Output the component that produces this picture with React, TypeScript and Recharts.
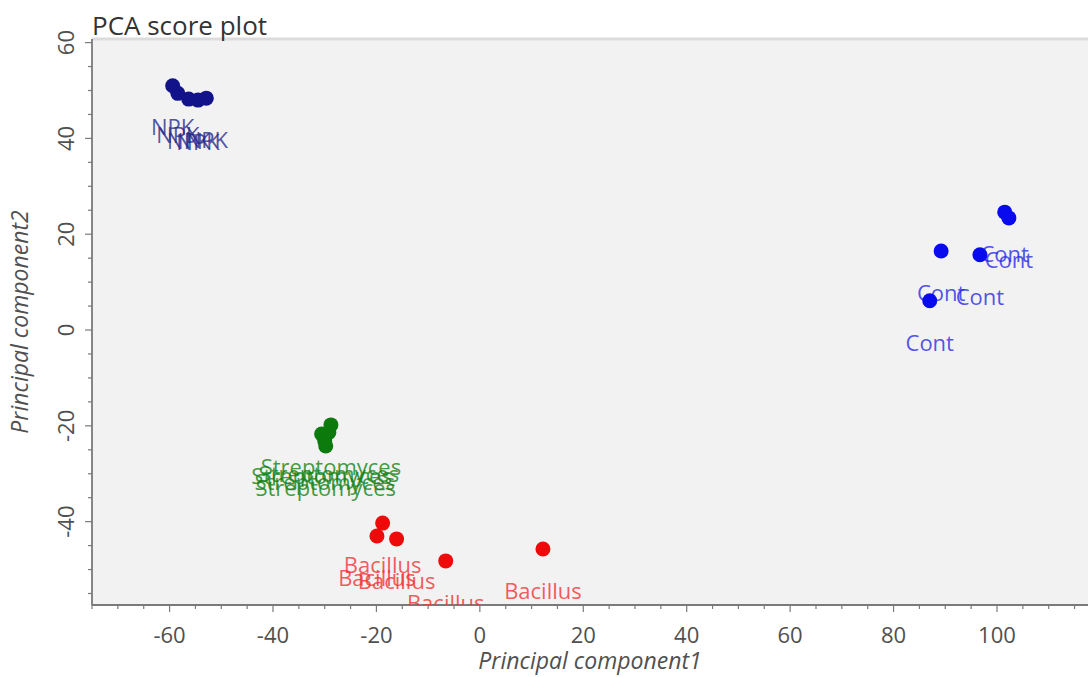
import React from 'react';
import { ScatterChart, Scatter, XAxis, YAxis, CartesianGrid, ReferenceLine } from 'recharts';

const npkPoints = [
  { x: -59.4, y: 51.0 },
  { x: -58.4, y: 49.4 },
  { x: -56.3, y: 48.2 },
  { x: -54.5, y: 48.0 },
  { x: -52.9, y: 48.4 },
];
const contPoints = [
  { x: 101.5, y: 24.6 },
  { x: 102.3, y: 23.4 },
  { x: 89.2, y: 16.5 },
  { x: 96.7, y: 15.7 },
  { x: 87.0, y: 6.1 },
];
const streptoPoints = [
  { x: -28.8, y: -19.8 },
  { x: -30.6, y: -21.7 },
  { x: -29.2, y: -21.4 },
  { x: -30.0, y: -23.1 },
  { x: -29.8, y: -24.2 },
];
const bacillusPoints = [
  { x: -18.8, y: -40.3 },
  { x: -19.9, y: -43.0 },
  { x: -16.1, y: -43.6 },
  { x: -6.6, y: -48.2 },
  { x: 12.2, y: -45.7 },
];

const xTicks = [-75, -70, -65, -60, -55, -50, -45, -40, -35, -30, -25, -20, -15, -10, -5, 0, 5, 10, 15, 20, 25, 30, 35, 40, 45, 50, 55, 60, 65, 70, 75, 80, 85, 90, 95, 100, 105, 110, 115];
const yTicks = [-55, -50, -45, -40, -35, -30, -25, -20, -15, -10, -5, 0, 5, 10, 15, 20, 25, 30, 35, 40, 45, 50, 55, 60];
const xDomain = [-75, 117.6];
const yDomain = [-57.4, 60.75];

const FONT = '"Open Sans", "DejaVu Sans", sans-serif';

const XTick = (props: any) => {
  const { x, y, payload } = props;
  const v = payload.value;
  const major = v % 20 === 0;
  return (
    <g>
      <line x1={x} x2={x} y1={y} y2={y + (major ? 7 : 4)} stroke="#7a7a7a" strokeWidth={1.2} />
      {major && (
        <text x={x} y={y + 30} dy="0.35em" textAnchor="middle" fontSize={22} fill="#505050" fontFamily={FONT}>
          {v}
        </text>
      )}
    </g>
  );
};

const YTick = (props: any) => {
  const { x, y, payload } = props;
  const v = payload.value;
  const major = v % 20 === 0;
  const tx = x - 26;
  return (
    <g>
      <line x1={x} x2={x - (major ? 7 : 4)} y1={y} y2={y} stroke="#7a7a7a" strokeWidth={1.2} />
      {major && (
        <text
          x={tx}
          y={y}
          dy="0.35em"
          textAnchor="middle"
          fontSize={22}
          fill="#505050"
          fontFamily={FONT}
          transform={`rotate(-90, ${tx}, ${y})`}
        >
          {v}
        </text>
      )}
    </g>
  );
};

const makeShape = (color: string, labelColor: string, label: string) => (props: any) => {
  const { cx, cy } = props;
  return (
    <g>
      <circle cx={cx} cy={cy} r={7.5} fill={color} />
      <text
        x={cx}
        y={cy + 42}
        dy="0.35em"
        textAnchor="middle"
        fontSize={22}
        fill={labelColor}
        fontFamily={FONT}
      >
        {label}
      </text>
    </g>
  );
};

export default function App() {
  return (
    <div style={{ position: 'absolute', left: 0, top: 0, width: 1088, height: 677, background: '#fff', fontFamily: FONT }}>
      <ScatterChart width={1088} height={677} margin={{ top: 39, right: 0, bottom: 0, left: 0 }}>
        <CartesianGrid fill="#f2f2f2" stroke="none" horizontal={false} vertical={false} />
        <XAxis
          type="number"
          dataKey="x"
          domain={xDomain}
          ticks={xTicks}
          allowDataOverflow
          height={72}
          tickSize={0}
          tickMargin={0}
          tickLine={false}
          tick={<XTick />}
          axisLine={{ stroke: '#7a7a7a', strokeWidth: 1.8 }}
          interval={0}
          label={{
            value: 'Principal component1',
            position: 'insideBottom',
            offset: 8,
            style: { fontSize: 23, fontStyle: 'italic', fill: '#505050', fontFamily: FONT },
          }}
        />
        <YAxis
          type="number"
          dataKey="y"
          domain={yDomain}
          ticks={yTicks}
          allowDataOverflow
          width={92}
          tickSize={0}
          tickMargin={0}
          tickLine={false}
          tick={<YTick />}
          axisLine={{ stroke: '#7a7a7a', strokeWidth: 1.8 }}
          interval={0}
          label={{
            value: 'Principal component2',
            angle: -90,
            position: 'insideLeft',
            offset: 20,
            style: { fontSize: 23, fontStyle: 'italic', fill: '#505050', fontFamily: FONT, textAnchor: 'middle' },
          }}
        />
        <ReferenceLine y={yDomain[1]} stroke="#dcdcdc" strokeWidth={3} />
        <Scatter data={npkPoints} isAnimationActive={false} shape={makeShape('#12128a', 'rgba(40,40,140,0.8)', 'NPK')} />
        <Scatter data={contPoints} isAnimationActive={false} shape={makeShape('#0a0aee', 'rgba(40,40,230,0.8)', 'Cont')} />
        <Scatter data={streptoPoints} isAnimationActive={false} shape={makeShape('#0c7a0c', 'rgba(20,130,20,0.8)', 'Streptomyces')} />
        <Scatter data={bacillusPoints} isAnimationActive={false} shape={makeShape('#ee0a0a', 'rgba(240,50,50,0.8)', 'Bacillus')} />
      </ScatterChart>
      <svg width={1088} height={677} style={{ position: 'absolute', left: 0, top: 0, pointerEvents: 'none' }}>
        <text x={92} y={35} fontSize={26} fill="#333" fontFamily={FONT}>
          PCA score plot
        </text>
      </svg>
    </div>
  );
}
